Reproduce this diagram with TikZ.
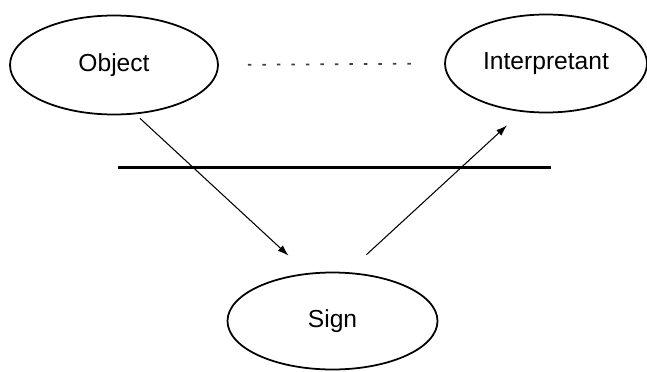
\documentclass[tikz,border=0pt]{standalone}
\usepackage{fontspec}
\setmainfont{Liberation Sans}
\usetikzlibrary{positioning,shapes.geometric,arrows.meta}

\begin{document}
\begin{tikzpicture}[
				bubble/.style={ellipse, draw=black, line width=1pt, inner sep=0pt, minimum width=4.16cm, minimum height=1.98cm, font=\fontsize{14}{16}\selectfont},
				link/.style={line width=0.6pt, -{Latex[length=2.2mm,width=1.5mm]}},
				dotline/.style={line width=1pt, draw=black!75, dash pattern=on 0.07cm off 0.22cm}
			]
			\useasboundingbox (0,0) rectangle (12.94,-7.42);
			\node[bubble] (object) at (2.28,-1.30) {Object};
			\node[bubble, minimum width=4.04cm, minimum height=1.96cm] (interp) at (10.92,-1.27) {Interpretant};
			\node[bubble, minimum width=4.2cm, minimum height=1.94cm] (sign) at (6.65,-6.42) {Sign};
			% end points of the two arrows
			\coordinate (objout) at ([shift={(0.52,-0.06)}]object.south);
			\coordinate (signin) at ([shift={(-0.88,0.32)}]sign.north);
			\coordinate (signout) at ([shift={(0.68,0.34)}]sign.north);
			\coordinate (interpin) at ([shift={(-0.78,-0.24)}]interp.south);
			\coordinate (barleft) at (2.36,-3.35);
			\coordinate (barright) at (11.02,-3.35);
			\draw[dotline, shorten <=0.58cm, shorten >=0.54cm] (object.east) -- (interp.west);
			\draw[line width=1.2pt] (barleft) -- (barright);
			\draw[link] (objout) -- (signin);
			\draw[link] (signout) -- (interpin);
			\end{tikzpicture}
\end{document}
